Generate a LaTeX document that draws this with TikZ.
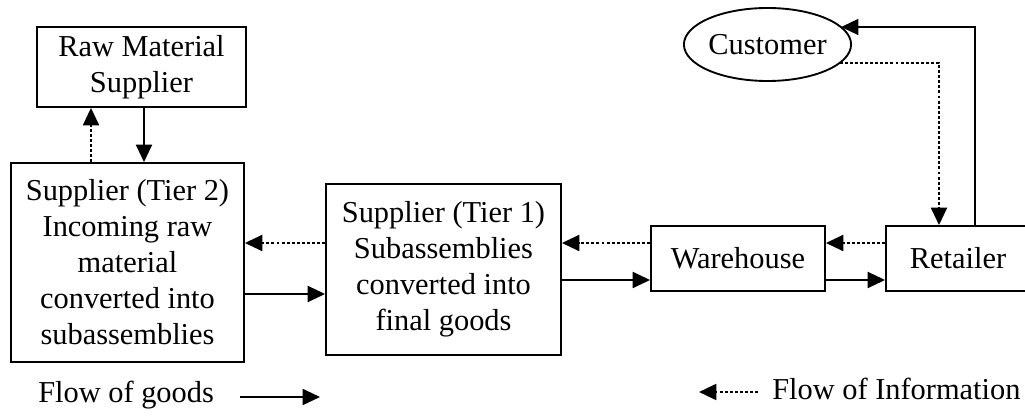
\documentclass[tikz,border=0pt]{standalone}
\usepackage{fontspec}
\setmainfont{Liberation Serif}
\usetikzlibrary{arrows.meta,shapes.geometric}
\begin{document}
\begin{tikzpicture}[x=0.75pt,y=-0.75pt,
  box/.style={draw,line width=1.4pt,inner sep=0pt,align=center,font=\fontsize{22.8}{27}\selectfont},
  lbl/.style={inner sep=0pt,anchor=base west,font=\fontsize{22.8}{27}\selectfont},
  goods/.style={line width=1.4pt,-{Triangle[length=13pt,width=12pt]}},
  info/.style={line width=1.4pt,dash pattern=on 2.2pt off 1.6pt,-{Triangle[length=13pt,width=12pt]}}]
\useasboundingbox (0,0) rectangle (1025,416);
% nodes
\node[box,minimum width=156.75pt,minimum height=60pt] (RM) at (141.5,67) {Raw Material\\Supplier};
\node[box,minimum width=174.75pt,minimum height=149.25pt] (T2) at (127.5,262.5) {Supplier (Tier 2)\\Incoming raw\\material\\converted into\\subassemblies};
\node[box,minimum width=176.25pt,minimum height=128.25pt] (T1) at (443.5,269.5) {Supplier (Tier 1)\\Subassemblies\\converted into\\final goods};
\node[box,minimum width=130.5pt,minimum height=48.75pt] (WH) at (738,258.5) {Warehouse};
\node[box,minimum width=108pt,minimum height=48.75pt] (RT) at (958,258.5) {Retailer};
\node[box,ellipse,minimum width=122.25pt,minimum height=54.75pt] (CU) at (767.5,44.5) {Customer};
% helper coordinates
\coordinate (yI) at (0,243);
\coordinate (yG1) at (0,294);
\coordinate (yG2) at (0,280);
\coordinate (xU) at (91,0);
\coordinate (xD) at (144,0);
\coordinate (c1) at (975,27);
\coordinate (c2) at (939,63);
% connectors
\draw[info] (T2.north -| xU) -- (RM.south -| xU);
\draw[goods] (RM.south -| xD) -- (T2.north -| xD);
\draw[info] (T1.west |- yI) -- (T2.east |- yI);
\draw[goods] (T2.east |- yG1) -- (T1.west |- yG1);
\draw[info] (WH.west |- yI) -- (T1.east |- yI);
\draw[goods] (T1.east |- yG2) -- (WH.west |- yG2);
\draw[info] (RT.west |- yI) -- (WH.east |- yI);
\draw[goods] (WH.east |- yG2) -- (RT.west |- yG2);
\draw[goods] (RT.north -| c1) -- (c1) -- (CU.14 |- c1);
\draw[info] (CU.-15 |- c2) -- (c2) -- (RT.north -| c2);
% legend
\node[lbl] (LG) at (38,403) {Flow of goods};
\coordinate (lg1) at (240,397);
\coordinate (lg2) at (320,397);
\draw[goods] (lg1) -- (lg2);
\node[lbl] (LI) at (772,400) {Flow of Information};
\coordinate (li1) at (758,392);
\coordinate (li2) at (699,392);
\draw[info] (li1) -- (li2);
\end{tikzpicture}
\end{document}
